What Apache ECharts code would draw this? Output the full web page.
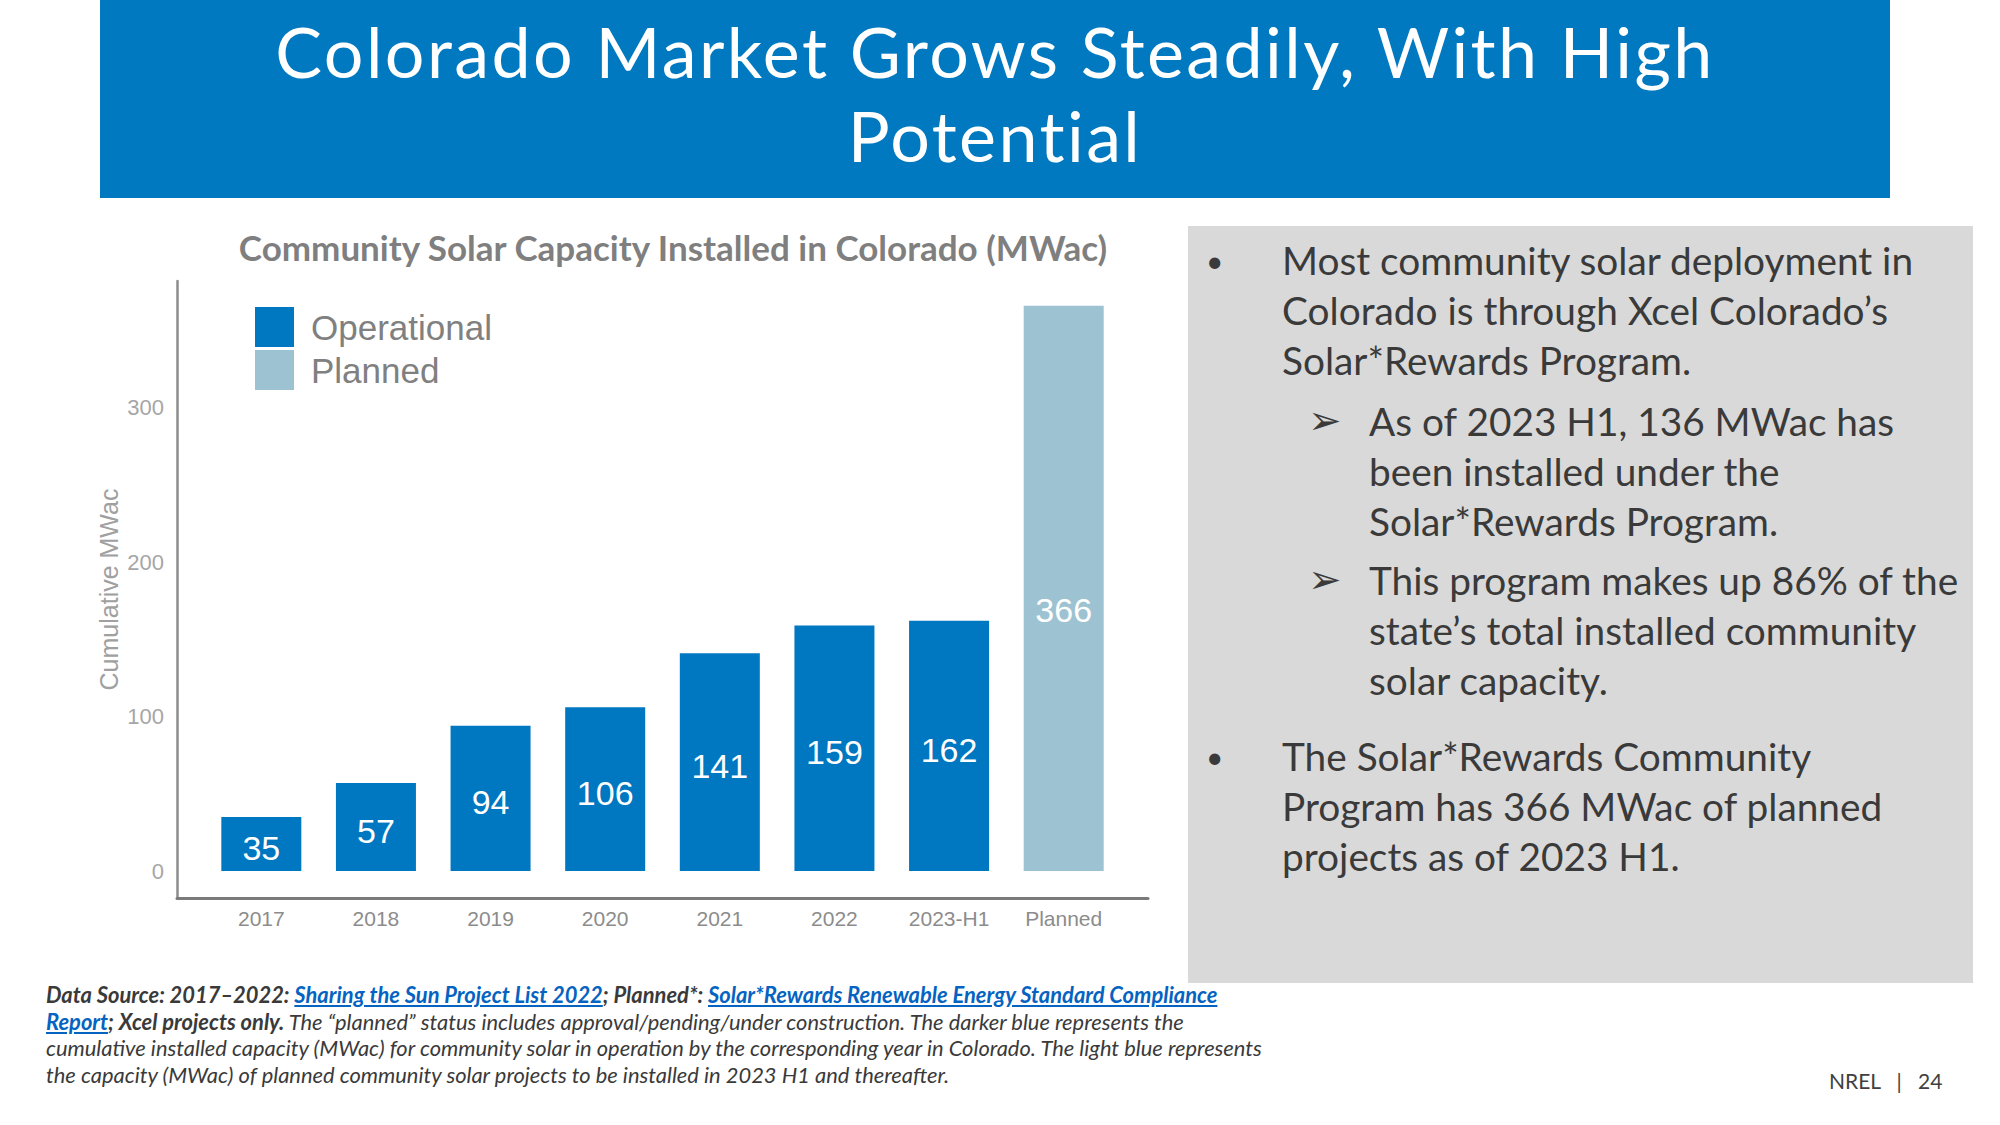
<!DOCTYPE html>
<html>
<head>
<meta charset="utf-8">
<script src="https://cdn.jsdelivr.net/npm/echarts@6/dist/echarts.min.js"></script>
<style>
  html, body { margin:0; padding:0; background:#fff; }
  body { width:2000px; height:1125px; position:relative; overflow:hidden; font-family: Lato, "Open Sans", sans-serif; }
  #banner { position:absolute; left:100px; top:0; width:1790px; height:198px; background:#0079C1; color:#fff; text-align:center; font-size:70px; letter-spacing:2.4px; }
  #banner .t { position:absolute; left:0; right:0; height:84px; line-height:84px; white-space:nowrap; }
  #chart { position:absolute; left:0; top:0; width:1180px; height:1125px; }
  #panel { position:absolute; left:1188px; top:226px; width:785px; height:757px; background:#D9D9D9; }
  .p { position:absolute; color:#3a3a3a; font-size:38.8px; line-height:50px; white-space:nowrap; }
  .mk { position:absolute; color:#3a3a3a; font-size:30px; line-height:50px; }
  .arr { font-family:"DejaVu Sans"; font-size:40px; }
  #foot { position:absolute; left:46px; top:982px; font-size:21.9px; line-height:26.7px; font-style:italic; color:#3a3a3a; white-space:nowrap; }
  #foot b { font-weight:bold; }
  #foot a { color:#0563C1; text-decoration:underline; font-weight:bold; }
  #nrel { position:absolute; left:1829px; top:1068px; font-size:21px; color:#404040; white-space:pre; }
</style>
</head>
<body>
<div id="banner"><div class="t" style="top:9px;">Colorado Market Grows Steadily, With High</div><div class="t" style="top:93px;">Potential</div></div>
<div id="chart"></div>
<div id="panel"></div>
<div class="mk" style="left:1206px;top:235px;">•</div>
<div class="p" style="left:1282px;top:235px;">Most community solar deployment in<br>Colorado is through Xcel Colorado’s<br>Solar*Rewards Program.</div>
<div class="mk arr" style="left:1308px;top:395px;">➢</div>
<div class="p" style="left:1369px;top:396px;">As of 2023 H1, 136 MWac has<br>been installed under the<br>Solar*Rewards Program.</div>
<div class="mk arr" style="left:1308px;top:554px;">➢</div>
<div class="p" style="left:1369px;top:555px;">This program makes up 86% of the<br>state’s total installed community<br>solar capacity.</div>
<div class="mk" style="left:1206px;top:731px;">•</div>
<div class="p" style="left:1282px;top:731px;">The Solar*Rewards Community<br>Program has 366 MWac of planned<br>projects as of 2023 H1.</div>
<div id="foot"><b>Data Source: 2017–2022: <a>Sharing the Sun Project List 2022</a>; Planned*: <a>Solar*Rewards Renewable Energy Standard Compliance</a></b><br><b><a>Report</a>; Xcel projects only.</b> The “planned” status includes approval/pending/under construction. The darker blue represents the<br>cumulative installed capacity (MWac) for community solar in operation by the corresponding year in Colorado. The light blue represents<br>the capacity (MWac) of planned community solar projects to be installed in 2023 H1 and thereafter.</div>
<div id="nrel">NREL   |   24</div>
<script>
const chartTitle = "Community Solar Capacity Installed in Colorado (MWac)";
const categories = ["2017", "2018", "2019", "2020", "2021", "2022", "2023-H1", "Planned"];
const operational = [35, 57, 94, 106, 141, 159, 162, "-"];
const planned = ["-", "-", "-", "-", "-", "-", "-", 366];
const yTicks = [0, 100, 200, 300];
const yAxisName = "Cumulative MWac";

const chart = echarts.init(document.getElementById('chart'), null, { renderer: 'svg' });
const baseFont = '"Liberation Sans", Arial, sans-serif';
chart.setOption({
  animation: false,
  title: {
    text: chartTitle, left: 668, top: 224, textAlign: 'center',
    textStyle: { fontFamily: 'Lato', fontWeight: 'bold', fontSize: 35, color: '#7F7F7F' }
  },
  legend: {
    orient: 'vertical', left: 255, top: 307, itemWidth: 39, itemHeight: 40, itemGap: 3, padding: 0,
    icon: 'rect',
    textStyle: { fontFamily: baseFont, fontSize: 35, color: '#808080', padding: [0, 0, 0, 12] },
    data: ['Operational', 'Planned']
  },
  grid: [
    { left: 177, top: 281, width: 971, height: 617 },
    { left: 204, top: 281, width: 917, height: 590 }
  ],
  xAxis: [
    { gridIndex: 0, type: 'value', min: 0, max: 1, axisLine: { show: true, onZero: false, lineStyle: { color: '#7A7A7A', width: 3 } },
      axisTick: { show: false }, axisLabel: { show: false }, splitLine: { show: false } },
    { gridIndex: 1, type: 'category', data: categories, axisLine: { show: false }, axisTick: { show: false },
      axisLabel: { margin: 37, fontFamily: baseFont, fontSize: 21, color: '#8C8C8C' } }
  ],
  yAxis: [
    { gridIndex: 0, type: 'value', min: 0, max: 1,
      name: yAxisName, nameLocation: 'middle', nameGap: 56,
      nameTextStyle: { fontFamily: baseFont, fontSize: 25, color: '#A0A0A0' },
      axisLine: { show: true, onZero: false, lineStyle: { color: '#8C8C8C', width: 2.5 } },
      axisTick: { show: false }, axisLabel: { show: false }, splitLine: { show: false } },
    { gridIndex: 1, type: 'value', min: 0, max: 382, interval: 100, offset: 27,
      axisLine: { show: false }, axisTick: { show: false }, splitLine: { show: false },
      axisLabel: { margin: 13, showMaxLabel: false, fontFamily: baseFont, fontSize: 22, color: '#A6A6A6',
        formatter: v => (yTicks.indexOf(v) >= 0 ? String(v) : '') } }
  ],
  series: [
    { name: 'Operational', type: 'bar', xAxisIndex: 1, yAxisIndex: 1, data: operational, barWidth: 80, barGap: '-100%',
      itemStyle: { color: '#0077C1' },
      label: { show: true, position: 'inside', offset: [0, 4], fontFamily: baseFont, fontSize: 34, color: '#FFFFFF' } },
    { name: 'Planned', type: 'bar', xAxisIndex: 1, yAxisIndex: 1, data: planned, barWidth: 80, barGap: '-100%',
      itemStyle: { color: '#9DC2D1' },
      label: { show: true, position: 'inside', offset: [0, 22], fontFamily: baseFont, fontSize: 34, color: '#FFFFFF' } }
  ]
});
</script>
</body>
</html>
